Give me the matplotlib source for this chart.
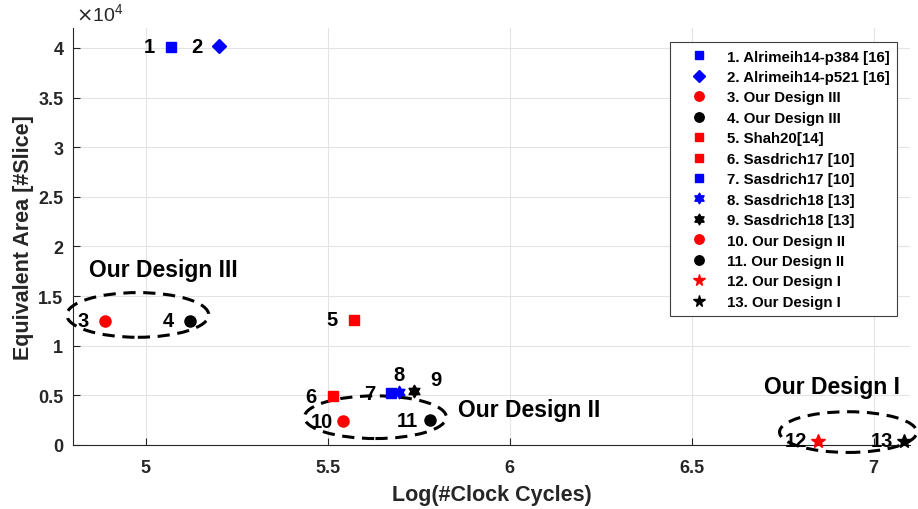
import matplotlib
matplotlib.use("Agg")
import numpy as np
import matplotlib.pyplot as plt
from matplotlib.patches import Ellipse
from matplotlib.path import Path
from matplotlib.ticker import FuncFormatter

plt.rcParams['font.family'] = ['Liberation Sans', 'DejaVu Sans']

labels = ["1. Alrimeih14-p384 [16]", "2. Alrimeih14-p521 [16]", "3. Our Design III",
          "4. Our Design III", "5. Shah20[14]", "6. Sasdrich17 [10]", "7. Sasdrich17 [10]",
          "8. Sasdrich18 [13]", "9. Sasdrich18 [13]", "10. Our Design II",
          "11. Our Design II", "12. Our Design I", "13. Our Design I"]
log_cycles = [5.069, 5.20, 4.887, 5.121, 5.571, 5.515, 5.675, 5.697, 5.736, 5.543, 5.78, 6.848, 7.083]
area = [40100, 40150, 12500, 12500, 12600, 4900, 5200, 5300, 5400, 2400, 2500, 450, 450]
colors = ['blue', 'blue', 'red', 'black', 'red', 'red', 'blue', 'blue', 'black', 'red', 'black', 'red', 'black']
numbers = [str(i + 1) for i in range(13)]
x_ticks = [5, 5.5, 6, 6.5, 7]
y_ticks = [0, 5000, 10000, 15000, 20000, 25000, 30000, 35000, 40000]

groups = ["Our Design III", "Our Design II", "Our Design I"]
group_center = [(4.978, 13100), (5.631, 2800), (6.93, 1300)]
group_size = [(0.39, 4500), (0.39, 4300), (0.377, 4100)]
group_text_pos = [(4.844, 17700), (5.858, 3600), (6.70, 5850)]

# hexagram marker shape
ang = np.pi / 2 + np.arange(12) * np.pi / 6
rad = np.where(np.arange(12) % 2 == 0, 1.0, 1 / np.sqrt(3))
hexv = np.column_stack([rad * np.cos(ang), rad * np.sin(ang)])
hexagram = Path(np.vstack([hexv, hexv[:1]]), closed=True)

markers = ['s', 'D', 'o', 'o', 's', 's', 's', hexagram, hexagram, 'o', 'o', '*', '*']
sizes = [7, 7, 8, 8, 7, 7, 7, 9, 9, 8, 8, 10, 10]
label_off = [(-22, 0)] * 13
label_off[7] = (0, 18)
label_off[8] = (22, 12)

fig = plt.figure(figsize=(9.18, 5.10), dpi=100)
ax = fig.add_axes([73 / 918, 64 / 510, 837 / 918, 417 / 510])

for i in range(13):
    ax.plot(log_cycles[i], area[i], linestyle='none', marker=markers[i], color=colors[i],
            markersize=sizes[i], label=labels[i], clip_on=False, zorder=5)
    ax.annotate(numbers[i], (log_cycles[i], area[i]), xytext=label_off[i],
                textcoords='offset pixels',
                fontsize=14.5, fontweight='bold', ha='center', va='center', zorder=6)

for (cx, cy), (w, h), name, (tx, ty) in zip(group_center, group_size, groups, group_text_pos):
    e = Ellipse((cx, cy), w, h, fill=False, edgecolor='black', linestyle=(0, (4, 2.5)),
                linewidth=2.2, clip_on=False, zorder=4)
    ax.add_patch(e)
    ax.text(tx, ty, name, fontsize=16.5, fontweight='bold', ha='left', va='center')

ax.set_xlim(4.8, 7.1)
ax.set_ylim(0, 42000)
ax.set_xticks(x_ticks)
ax.set_xticklabels([f"{v:g}" for v in x_ticks], fontweight='bold')
ax.set_yticks(y_ticks)
ax.set_yticklabels([f"{v/1e4:g}" for v in y_ticks], fontweight='bold')
ax.tick_params(direction='in', labelsize=13, length=5, colors='#262626')
ax.tick_params(axis='x', pad=10)
ax.tick_params(axis='y', pad=7)
ax.grid(True, color='#e3e3e3', linewidth=0.8)
ax.set_axisbelow(True)
ax.spines['top'].set_visible(False)
ax.spines['right'].set_visible(False)
ax.spines['left'].set_color('#262626')
ax.spines['bottom'].set_color('#262626')
ax.text(0.003, 1.01, r"$\times\mathregular{10^4}$", transform=ax.transAxes, fontsize=14,
        ha='left', va='bottom', color='#262626')

ax.set_xlabel("Log(#Clock Cycles)", fontsize=15.5, fontweight='bold', color='#262626', labelpad=6)
ax.set_ylabel("Equivalent Area [#Slice]", fontsize=15.5, fontweight='bold', color='#262626', labelpad=3)

leg = ax.legend(loc='upper right', bbox_to_anchor=(0.9845, 0.9664), borderaxespad=0,
                prop={'weight': 'bold', 'size': 10.8},
                fancybox=False, edgecolor='#404040', framealpha=1,
                handlelength=2.9, handletextpad=0.4,
                borderpad=0.5, labelspacing=0.43, markerscale=0.85)
leg.get_frame().set_linewidth(0.8)

fig.savefig("out.png", dpi=100)
